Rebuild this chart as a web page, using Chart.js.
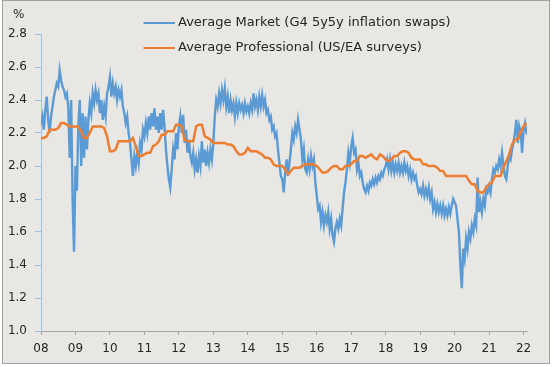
<!DOCTYPE html>
<html>
<head>
<meta charset="utf-8">
<script src="https://cdn.jsdelivr.net/npm/chart.js@4.4.1/dist/chart.umd.min.js"></script>
<style>
  html, body { margin: 0; padding: 0; background: #fff; }
  #wrap { position: relative; width: 554px; height: 367px; }
</style>
</head>
<body>
<div id="wrap"><canvas id="chart" width="554" height="367"></canvas></div>
<script>
// x axis: years, shown as two-digit labels
const yearTicks  = [2008, 2009, 2010, 2011, 2012, 2013, 2014, 2015, 2016, 2017, 2018, 2019, 2020, 2021, 2022];
const yearLabels = ['08', '09', '10', '11', '12', '13', '14', '15', '16', '17', '18', '19', '20', '21', '22'];

const seriesNames = ['Average Market (G4 5y5y inflation swaps)', 'Average Professional (US/EA surveys)'];

// market: half-monthly readings from Jan 2008
const marketStart = 2008;
const marketPerYear = 24;
const marketValues = [
  // 2008
  2.25, 2.30, 2.22, 2.34, 2.42, 2.28, 2.20, 2.30, 2.36, 2.42, 2.46, 2.50,
  2.48, 2.58, 2.52, 2.48, 2.46, 2.42, 2.44, 2.36, 2.05, 2.40, 1.80, 1.48,
  // 2009
  2.00, 1.85, 2.25, 2.40, 2.00, 2.32, 2.05, 2.30, 2.10, 2.28, 2.38, 2.32,
  2.44, 2.38, 2.46, 2.40, 2.44, 2.32, 2.40, 2.28, 2.36, 2.30, 2.44, 2.48,
  // 2010
  2.54, 2.42, 2.50, 2.44, 2.48, 2.40, 2.46, 2.42, 2.46, 2.36, 2.32, 2.26,
  2.30, 2.20, 2.14, 2.04, 1.94, 2.06, 2.00, 2.08, 2.02, 2.14, 2.10, 2.22,
  // 2011
  2.18, 2.26, 2.20, 2.30, 2.22, 2.32, 2.24, 2.35, 2.22, 2.30, 2.20, 2.32,
  2.22, 2.34, 2.24, 2.10, 2.00, 1.92, 1.87, 1.98, 2.10, 2.04, 2.20, 2.10,
  // 2012
  2.24, 2.30, 2.20, 2.31, 2.14, 2.22, 2.08, 2.16, 2.06, 2.02, 2.08, 1.98,
  2.04, 1.96, 2.06, 2.00, 2.15, 2.02, 2.10, 2.00, 2.08, 2.02, 2.10, 2.04,
  // 2013
  2.14, 2.30, 2.40, 2.36, 2.44, 2.38, 2.46, 2.40, 2.47, 2.36, 2.42, 2.32,
  2.40, 2.34, 2.38, 2.30, 2.38, 2.32, 2.38, 2.34, 2.37, 2.32, 2.38, 2.33,
  // 2014
  2.36, 2.32, 2.38, 2.34, 2.44, 2.36, 2.40, 2.34, 2.42, 2.36, 2.43, 2.36,
  2.40, 2.32, 2.34, 2.28, 2.30, 2.22, 2.24, 2.18, 2.20, 2.10, 2.02, 1.94,
  // 2015
  1.92, 1.84, 1.96, 2.04, 1.94, 2.02, 2.10, 2.20, 2.16, 2.24, 2.20, 2.28,
  2.22, 2.16, 2.04, 2.10, 1.98, 1.96, 2.04, 1.98, 2.06, 2.00, 2.04, 1.90,
  // 2016
  1.82, 1.74, 1.76, 1.66, 1.72, 1.64, 1.70, 1.66, 1.72, 1.62, 1.68, 1.58,
  1.54, 1.62, 1.66, 1.62, 1.68, 1.64, 1.74, 1.84, 1.90, 1.98, 2.08, 2.02,
  // 2017
  2.12, 2.17, 2.08, 2.10, 1.98, 2.02, 1.94, 1.96, 1.90, 1.86, 1.84, 1.88,
  1.85, 1.90, 1.88, 1.92, 1.89, 1.93, 1.90, 1.94, 1.92, 1.96, 1.94, 1.98,
  // 2018
  2.00, 2.04, 1.98, 2.04, 1.97, 2.02, 1.96, 2.01, 1.97, 2.02, 1.96, 2.00,
  1.96, 2.02, 1.97, 2.00, 1.94, 1.98, 1.92, 1.96, 1.92, 1.94, 1.88, 1.84,
  // 2019
  1.86, 1.83, 1.88, 1.82, 1.86, 1.82, 1.87, 1.80, 1.84, 1.74, 1.78, 1.72,
  1.77, 1.72, 1.76, 1.71, 1.76, 1.70, 1.74, 1.70, 1.75, 1.71, 1.76, 1.80,
  // 2020
  1.78, 1.76, 1.68, 1.60, 1.40, 1.26, 1.50, 1.44, 1.56, 1.50, 1.60, 1.56,
  1.64, 1.60, 1.68, 1.64, 1.93, 1.72, 1.78, 1.72, 1.80, 1.76, 1.86, 1.84,
  // 2021
  1.88, 1.84, 1.92, 1.98, 1.96, 2.00, 1.98, 2.04, 2.00, 2.08, 2.00, 1.94,
  1.92, 2.00, 2.06, 2.04, 2.10, 2.14, 2.20, 2.28, 2.14, 2.24, 2.20, 2.08,
  // 2022
  2.22, 2.26, 2.20, 2.19
];

// professional surveys: monthly from Jan 2008
const profStart = 2008;
const profPerYear = 12;
const profValues = [
  2.17, 2.17, 2.18, 2.22, 2.22, 2.22, 2.23, 2.26, 2.26, 2.25, 2.24, 2.24, // 2008
  2.24, 2.24, 2.21, 2.17, 2.17, 2.20, 2.24, 2.24, 2.24, 2.24, 2.23, 2.18, // 2009
  2.09, 2.09, 2.10, 2.15, 2.15, 2.15, 2.15, 2.15, 2.17, 2.12, 2.06, 2.06, // 2010
  2.07, 2.08, 2.08, 2.12, 2.13, 2.15, 2.19, 2.19, 2.21, 2.21, 2.21, 2.25, // 2011
  2.25, 2.24, 2.16, 2.15, 2.15, 2.15, 2.24, 2.25, 2.25, 2.18, 2.17, 2.16, // 2012
  2.14, 2.14, 2.14, 2.14, 2.14, 2.13, 2.13, 2.12, 2.09, 2.07, 2.07, 2.08, // 2013
  2.11, 2.09, 2.09, 2.09, 2.08, 2.07, 2.05, 2.05, 2.04, 2.01, 2.00, 2.00, // 2014
  2.00, 1.98, 1.95, 1.97, 1.99, 1.99, 1.99, 2.00, 2.01, 2.01, 2.01, 2.01, // 2015
  2.00, 1.98, 1.96, 1.96, 1.97, 1.99, 2.00, 2.00, 1.98, 1.98, 2.00, 2.00, // 2016
  2.01, 2.03, 2.03, 2.06, 2.06, 2.05, 2.06, 2.07, 2.05, 2.04, 2.07, 2.06, // 2017
  2.04, 2.03, 2.04, 2.06, 2.06, 2.08, 2.09, 2.09, 2.08, 2.05, 2.04, 2.04, // 2018
  2.04, 2.01, 2.01, 2.00, 2.00, 2.00, 1.99, 1.97, 1.97, 1.94, 1.94, 1.94, // 2019
  1.94, 1.94, 1.94, 1.94, 1.94, 1.91, 1.89, 1.89, 1.85, 1.84, 1.84, 1.87, // 2020
  1.89, 1.90, 1.94, 1.94, 1.94, 1.99, 2.03, 2.07, 2.13, 2.16, 2.16, 2.21, // 2021
  2.24, 2.26                                                              // 2022
];

const marketColor = '#5b9bd5';
const profColor = '#ed7d31';
const textColor = '#262626';

const marketPoints = marketValues.map((v, i) => ({ x: marketStart + i / marketPerYear, y: v }));
const profPoints = profValues.map((v, i) => ({ x: profStart + i / profPerYear, y: v }));

// background, frame, "%" unit and the two-line legend
const framePlugin = {
    id: 'frame',
    beforeDraw(chart) {
        const ctx = chart.ctx;
        ctx.save();
        ctx.fillStyle = '#ffffff';
        ctx.fillRect(0, 0, chart.width, chart.height);
        ctx.fillStyle = '#e9e7e4';
        ctx.fillRect(2.5, 0.5, 547, 363);
        ctx.strokeStyle = '#a0a0a0';
        ctx.lineWidth = 1;
        ctx.strokeRect(2.5, 0.5, 547, 363);
        ctx.restore();
    },
    afterDraw(chart) {
        const ctx = chart.ctx;
        ctx.save();
        ctx.fillStyle = textColor;
        ctx.font = '12px "DejaVu Sans"';
        ctx.textBaseline = 'middle';
        ctx.textAlign = 'left';
        ctx.fillText('%', 13, 15);

        ctx.font = '13px "DejaVu Sans"';
        const rows = [23, 48];
        chart.data.datasets.forEach(ds => {
            const y = rows[ds.legendRow];
            ctx.strokeStyle = ds.borderColor;
            ctx.lineWidth = 2;
            ctx.beginPath();
            ctx.moveTo(143.5, y);
            ctx.lineTo(175, y);
            ctx.stroke();
            ctx.fillText(ds.label, 178, y);
        });
        ctx.restore();
    }
};

new Chart(document.getElementById('chart'), {
    type: 'line',
    data: {
        datasets: [
            {
                label: seriesNames[1],
                legendRow: 1,
                data: profPoints,
                borderColor: profColor,
                borderWidth: 2.5,
                pointRadius: 0,
                tension: 0,
                order: 0
            },
            {
                label: seriesNames[0],
                legendRow: 0,
                data: marketPoints,
                borderColor: marketColor,
                borderWidth: 2.4,
                pointRadius: 0,
                tension: 0,
                order: 1
            }
        ]
    },
    options: {
        responsive: false,
        animation: false,
        layout: { padding: { top: 34, right: 27, bottom: 0, left: 0 } },
        plugins: {
            legend: { display: false },
            tooltip: { enabled: false }
        },
        scales: {
            x: {
                type: 'linear',
                min: 2008,
                max: 2022.1,
                afterFit: scale => { scale.height = 36; },
                afterBuildTicks: axis => { axis.ticks = yearTicks.map(v => ({ value: v })); },
                grid: { drawOnChartArea: false, drawTicks: true, tickLength: 4, color: '#a6a6a6' },
                border: { color: '#a6a6a6' },
                ticks: {
                    autoSkip: false,
                    maxRotation: 0,
                    padding: 7,
                    color: textColor,
                    font: { family: 'DejaVu Sans', size: 12 },
                    callback: v => yearLabels[yearTicks.indexOf(v)]
                }
            },
            y: {
                min: 1.0,
                max: 2.8,
                afterFit: scale => { scale.width = 41; },
                grid: { drawOnChartArea: false, drawTicks: true, tickLength: 6, color: '#9cc2e5' },
                border: { color: '#9cc2e5' },
                ticks: {
                    stepSize: 0.2,
                    padding: 8,
                    color: textColor,
                    font: { family: 'DejaVu Sans', size: 12 },
                    callback: v => v.toFixed(1)
                }
            }
        }
    },
    plugins: [framePlugin]
});
</script>
</body>
</html>
